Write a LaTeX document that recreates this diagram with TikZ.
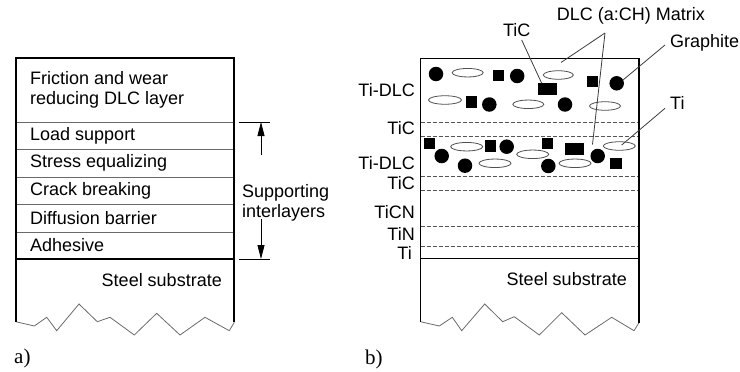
\documentclass[tikz,border=0pt]{standalone}
\usepackage{fontspec}
\setmainfont{Liberation Serif}
\newfontfamily\arialf{Liberation Sans}
\usetikzlibrary{shapes.geometric,arrows.meta}
\definecolor{linegray}{HTML}{6A6A6A}
\definecolor{dashgray}{HTML}{555555}
\definecolor{ellgray}{HTML}{505050}
\definecolor{leadgray}{HTML}{3C3C3C}
\tikzset{
  frame/.style={draw=black,line width=1.4pt},
  layerline/.style={draw=linegray,line width=0.7pt},
  dashline/.style={draw=dashgray,line width=1pt,dash pattern=on 4pt off 2pt},
  zig/.style={draw=linegray,line width=0.8pt,line join=miter},
  blob/.style={circle,fill=black,inner sep=0pt,minimum size=14.5pt},
  sq/.style={rectangle,fill=black,inner sep=0pt,minimum size=11.5pt},
  bar/.style={rectangle,fill=black,inner sep=0pt,minimum width=19pt,minimum height=12pt},
  ell/.style={ellipse,draw=ellgray,line width=0.8pt,inner sep=0pt,minimum width=31pt,minimum height=8.5pt},
  lbl/.style={font=\arialf\fontsize{18}{20}\selectfont,inner sep=0pt,align=left},
  leader/.style={draw=leadgray,line width=0.8pt},
  dim/.style={draw=black,line width=0.8pt},
  dimarrow/.style={draw=black,line width=0.8pt,-{Triangle[length=14pt,width=7pt]}},
  panel/.style={font=\fontsize{21}{24}\selectfont,inner sep=0pt}
}
\begin{document}
\begin{tikzpicture}[x=1pt,y=-1pt]
\useasboundingbox (0,0) rectangle (740,372);
% ---------------- panel a ----------------
\draw[zig] (15.7,321.7) -- (34.3,326) -- (46.7,317.3) -- (56.7,330.7) -- (79,304) -- (97.3,321.7) -- (110,317.3) -- (134.3,335) -- (156.7,313.3) -- (180,335) -- (205,317.3) -- (229.3,330.7) -- (234.3,322.3);
\draw[layerline] (16,122) -- (234,122);
\draw[layerline] (16,149) -- (234,149);
\draw[layerline] (16,177) -- (234,177);
\draw[layerline] (16,204) -- (234,204);
\draw[layerline] (16,232) -- (234,232);
\draw[frame] (16,259) -- (234,259);
\draw[frame] (16,321.7) -- (16,58) -- (234,58) -- (234,322.3);
\node[lbl,anchor=west] (fric) at (30,90) {Friction and wear\\reducing DLC layer};
\node[lbl,anchor=west] (load) at (30,135.5) {Load support};
\node[lbl,anchor=west] (stress) at (30,163) {Stress equalizing};
\node[lbl,anchor=west] (crack) at (30,190.5) {Crack breaking};
\node[lbl,anchor=west] (diff) at (30,218) {Diffusion barrier};
\node[lbl,anchor=west] (adh) at (30,245.5) {Adhesive};
\node[lbl,anchor=east] (steelA) at (222,280) {Steel substrate};
% dimension
\coordinate (t1a) at (238.5,122); \coordinate (t1b) at (270,122);
\coordinate (t2a) at (238.5,259); \coordinate (t2b) at (270,259);
\draw[dim] (t1a) -- (t1b);
\draw[dim] (t2a) -- (t2b);
\node[lbl,anchor=west] (supp) at (242,203) {Supporting\\interlayers};
\coordinate (u0) at (261,155); \coordinate (u1) at (261,122);
\coordinate (d0) at (261,218.5); \coordinate (d1) at (261,259);
\draw[dimarrow] (u0) -- (u1);
\draw[dimarrow] (d0) -- (d1);
\node[panel,anchor=west] (pa) at (14,358) {a)};
% ---------------- panel b ----------------
\draw[zig] (420.5,321.7) -- (439.3,326) -- (452.3,317.3) -- (461.7,330.7) -- (484.7,304) -- (502.7,321.7) -- (514.3,316.7) -- (539.3,335) -- (561.7,312.7) -- (585,335) -- (611.7,317.3) -- (634,330.7) -- (639,322.7);
\draw[dashline] (420.5,122) -- (639,122);
\draw[dashline] (420.5,136.5) -- (639,136.5);
\draw[dashline] (420.5,176.7) -- (639,176.7);
\draw[dashline] (420.5,190.8) -- (639,190.8);
\draw[dashline] (420.5,226.7) -- (639,226.7);
\draw[dashline] (420.5,246) -- (639,246);
\draw[frame] (420.5,258.5) -- (639,258.5);
\draw[frame] (420.5,321.7) -- (420.5,58.3) -- (639,58.3) -- (639,322.7);
% side labels
\node[lbl,anchor=east] (l1) at (415,90) {Ti-DLC};
\node[lbl,anchor=east] (l2) at (415,128.5) {TiC};
\node[lbl,anchor=east] (l3) at (415,162.7) {Ti-DLC};
\node[lbl,anchor=east] (l4) at (415,183.5) {TiC};
\node[lbl,anchor=east] (l5) at (415,211.7) {TiCN};
\node[lbl,anchor=east] (l6) at (415,234) {TiN};
\node[lbl,anchor=east] (l7) at (412,252.5) {Ti};
\node[lbl,anchor=east] (steelB) at (627,279) {Steel substrate};
% top Ti-DLC layer particles
\node[blob] (c1) at (436,74) {};
\node[ell] (e1) at (467.7,72.7) {};
\node[sq] (s1) at (498.3,75.5) {};
\node[blob] (c2) at (517.2,76) {};
\node[ell,minimum width=30pt] (e2) at (558.3,75) {};
\node[bar] (r1) at (547.3,89.3) {};
\node[sq] (s2) at (592.3,81.3) {};
\node[blob] (c3) at (616.7,83.3) {};
\node[ell,minimum width=33pt] (e3) at (445,100) {};
\node[sq] (s3) at (471.7,102) {};
\node[blob] (c4) at (489.3,104.5) {};
\node[ell] (e4) at (528.3,104.3) {};
\node[blob] (c5) at (565,104.5) {};
\node[ell] (e5) at (605,106) {};
% second Ti-DLC layer particles
\node[sq] (s4) at (429.3,143.3) {};
\node[blob] (c6) at (441.7,156) {};
\node[ell,minimum width=32pt] (e6) at (466.7,146.7) {};
\node[sq] (s5) at (490.7,146) {};
\node[blob] (c7) at (506.7,146.7) {};
\node[ell,minimum width=32pt] (e7) at (532.7,154.3) {};
\node[blob] (c8) at (465,165.7) {};
\node[ell,minimum width=32pt] (e8) at (495,163.3) {};
\node[sq] (s6) at (547.3,143.3) {};
\node[bar] (r2) at (574,149) {};
\node[blob] (c9) at (548.3,166) {};
\node[ell,minimum width=32pt] (e9) at (575,163.3) {};
\node[blob] (c10) at (597.7,156) {};
\node[ell,minimum width=32pt] (e10) at (619.3,146) {};
\node[sq] (s7) at (616,163.3) {};
% top labels and leaders
\node[lbl] (dlc) at (630.8,16) {DLC (a:CH) Matrix};
\node[lbl] (tic) at (516.7,30) {TiC};
\node[lbl,anchor=west] (graph) at (670,43) {Graphite};
\node[lbl,anchor=west] (ti) at (670,102.5) {Ti};
\coordinate (dlcA) at (605,33);
\coordinate (dlcE1) at (561,62.5);
\coordinate (dlcE2) at (592.5,144.5);
\coordinate (ticA) at (521.7,40);
\coordinate (ticE) at (541.7,83.3);
\coordinate (grA) at (665,45);
\coordinate (grE) at (623,80);
\coordinate (tiA) at (665,108.3);
\coordinate (tiE) at (621.7,145);
\draw[leader] (dlcA) -- (dlcE1);
\draw[leader] (dlcA) -- (dlcE2);
\draw[leader] (ticA) -- (ticE);
\draw[leader] (grA) -- (grE);
\draw[leader] (tiA) -- (tiE);
\node[panel,anchor=west] (pb) at (365,359) {b)};
\end{tikzpicture}
\end{document}
